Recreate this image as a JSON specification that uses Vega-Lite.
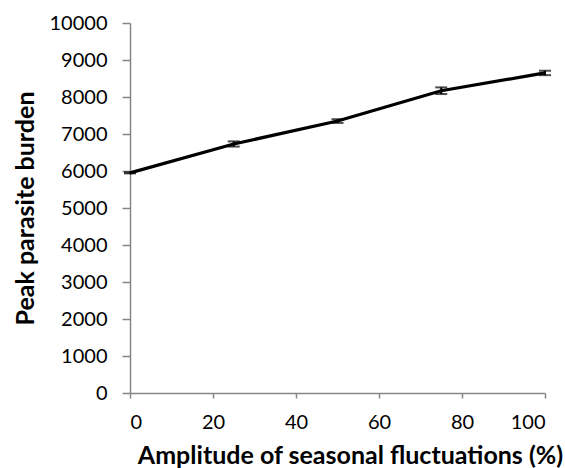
{
  "$schema": "https://vega.github.io/schema/vega-lite/v6.json",
  "width": 415,
  "height": 370,
  "autosize": "none",
  "padding": {"left": 130, "top": 23, "right": 20, "bottom": 75},
  "background": "white",
  "config": {
    "view": {"stroke": null},
    "axis": {"labelFont": "Lato", "titleFont": "Lato", "labelFontSize": 20, "titleFontSize": 25, "titleFontWeight": "bold", "labelColor": "#000", "titleColor": "#000", "domainColor": "#868686", "tickColor": "#868686", "domainWidth": 1.5, "tickWidth": 1.5, "grid": false, "labelOverlap": false, "format": "d"}
  },
  "data": {"values": [
    {"amp": 0, "burden": 5950, "err": 15},
    {"amp": 25, "burden": 6730, "err": 70},
    {"amp": 50, "burden": 7350, "err": 50},
    {"amp": 75, "burden": 8170, "err": 90},
    {"amp": 100, "burden": 8650, "err": 60}
  ]},
  "transform": [
    {"calculate": "datum.burden - datum.err", "as": "lo"},
    {"calculate": "datum.burden + datum.err", "as": "hi"}
  ],
  "encoding": {
    "x": {"field": "amp", "type": "quantitative", "scale": {"domain": [0, 100]},
          "axis": {"values": [0, 20, 40, 60, 80, 100], "tickSize": 5, "labelPadding": 14, "title": "Amplitude of seasonal fluctuations (%)", "titlePadding": 11, "titleX": 220}}
  },
  "layer": [
    {
      "mark": {"type": "line", "color": "black", "strokeWidth": 3.2},
      "encoding": {
        "y": {"field": "burden", "type": "quantitative", "scale": {"domain": [0, 10000]},
              "axis": {"values": [0,1000,2000,3000,4000,5000,6000,7000,8000,9000,10000], "tickSize": 8, "labelPadding": 15, "title": "Peak parasite burden", "titlePadding": 11}}
      }
    },
    {
      "mark": {"type": "rule", "color": "black", "strokeWidth": 2},
      "encoding": {
        "y": {"field": "lo", "type": "quantitative", "scale": {"domain": [0, 10000]},
              "axis": {"values": [0,1000,2000,3000,4000,5000,6000,7000,8000,9000,10000], "tickSize": 8, "labelPadding": 15, "title": "Peak parasite burden", "titlePadding": 11}},
        "y2": {"field": "hi"}
      }
    },
    {
      "mark": {"type": "tick", "orient": "horizontal", "color": "black", "thickness": 2, "size": 12},
      "encoding": {
        "y": {"field": "lo", "type": "quantitative", "scale": {"domain": [0, 10000]},
              "axis": {"values": [0,1000,2000,3000,4000,5000,6000,7000,8000,9000,10000], "tickSize": 8, "labelPadding": 15, "title": "Peak parasite burden", "titlePadding": 11}}
      }
    },
    {
      "mark": {"type": "tick", "orient": "horizontal", "color": "black", "thickness": 2, "size": 12},
      "encoding": {
        "y": {"field": "hi", "type": "quantitative", "scale": {"domain": [0, 10000]},
              "axis": {"values": [0,1000,2000,3000,4000,5000,6000,7000,8000,9000,10000], "tickSize": 8, "labelPadding": 15, "title": "Peak parasite burden", "titlePadding": 11}}
      }
    }
  ]
}
